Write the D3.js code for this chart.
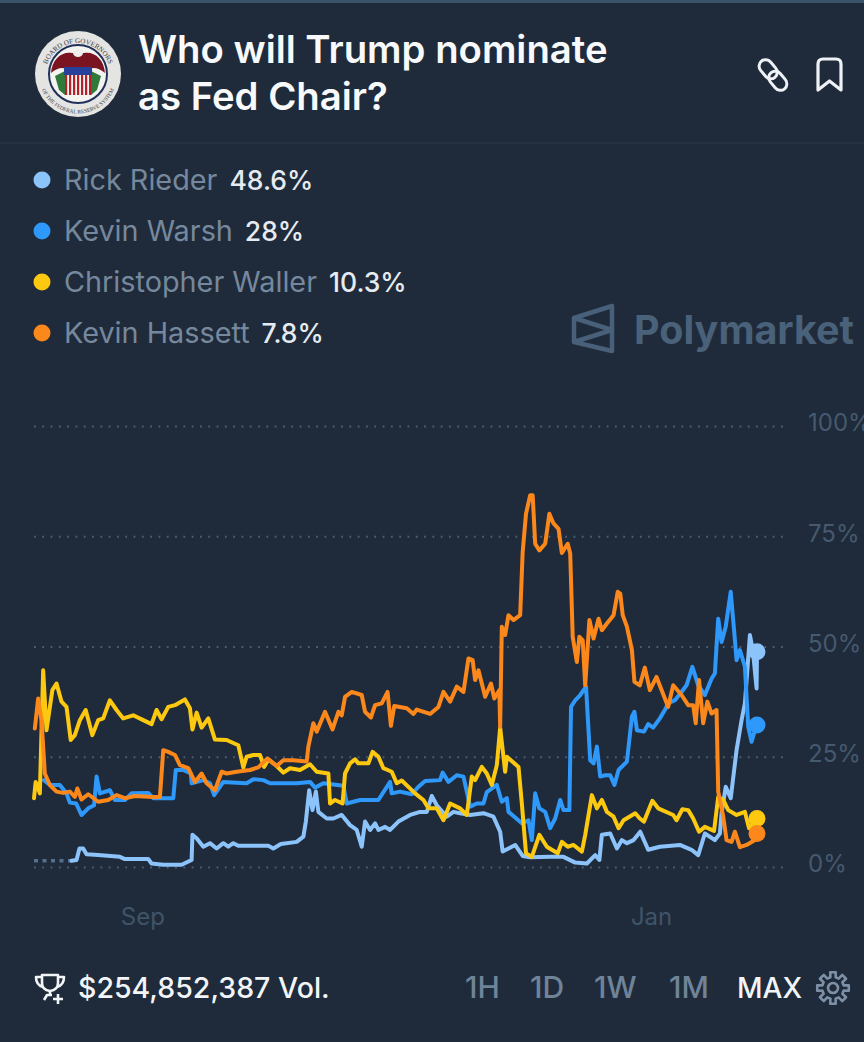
<!DOCTYPE html>
<html>
<head>
<meta charset="utf-8">
<script src="https://cdn.jsdelivr.net/npm/d3@7"></script>
<style>
  body { margin: 0; background: #1f2b3a; overflow: hidden; }
  svg { display: block; font-family: Inter, "Noto Sans", sans-serif; }
</style>
</head>
<body>
<div id="chart"></div>
<script>
// [days since Aug 6 2025, percent]
var rieder = [[9,1.4],[10.2,1.6],[10.9,4.2],[11.8,4.2],[12.6,2.9],[15.4,2.7],[20.6,2.3],[21.8,1.8],[27.4,1.8],[28.2,.8],[31,.5],[35.4,.5],[37.8,1.6],[38,7.3],[39,6.5],[40.6,4.6],[42.2,5.4],[43.8,4.2],[45.4,5.4],[46.6,4.6],[47.8,5.4],[49,4.8],[56.2,4.8],[57.4,4.2],[59.2,5.2],[63,5.7],[64.6,6.9],[65.2,10.3],[66,17.4],[66.8,12.9],[67.6,17.1],[68.2,12.5],[70.2,11],[71.8,11],[73.8,11.8],[75.8,9.5],[77.4,8.4],[78.6,4.6],[79.4,10.3],[80.6,8.4],[81.8,9.9],[82.6,8.4],[84.2,9.1],[85.4,8.4],[87.4,10.3],[90.2,11.8],[92.6,12.5],[94.2,12.5],[95.4,16.1],[96.6,14],[99,11.4],[100.6,12.5],[102.2,12.2],[104.6,11.8],[107.8,12.2],[110.2,11.4],[111.8,8],[112.4,3.5],[113.8,4.2],[115.4,5],[117.2,2.5],[119,2.2],[123.8,2.3],[127,2.3],[129.8,1],[132.6,.8],[134.6,2.7],[135.6,1.6],[136.2,7.3],[138.2,7.6],[139.8,4.2],[141,6.1],[142.2,5.4],[143.8,6.1],[145.4,8],[147.3,3.9],[150.1,4.6],[154.9,5],[157.7,3.9],[159.3,2.7],[160.9,7.6],[163.3,6.1],[164.5,7.6],[164.9,12.2],[165.9,18.2],[167.1,15.6],[168.5,26.5],[169.7,33.3],[170.5,37.1],[171.7,52.6],[172.4,49.2],[173.3,40.5],[173.4,48.8]];
var riederStart = [[0,1.4],[9,1.4]];

var warsh = [[2.4,19.7],[3.8,18.6],[6.2,18.6],[7.8,16.7],[8.6,14.6],[10.1,14.4],[11.4,11.8],[13,13.3],[14.4,14],[15,20.5],[15.8,16.7],[18.2,17.4],[19.4,15.2],[21.8,15.2],[23.4,16.7],[27.4,16.8],[28.6,15.6],[33.4,15.6],[34,22],[35.8,22],[37.6,21.2],[37.8,19],[40.6,19.7],[42.2,19],[43.2,16.3],[45.4,19.3],[48.6,19.1],[51,19],[52.6,19.9],[55,19.7],[56.6,19],[63,19],[66.2,19.3],[67.4,18],[69.4,19],[74.2,18.4],[75,14.4],[78.2,15.2],[82.6,15.2],[85.4,19.3],[85.8,16.7],[87.8,17.1],[90.6,16.5],[92.2,18.2],[93.8,19.5],[97.4,19.7],[98,21.4],[99.4,19.3],[101.4,20.8],[103,20.5],[104.6,13.7],[106.2,14.4],[107.8,14.4],[108.6,17],[111,18.6],[112.2,14.8],[113.4,15.6],[113.8,12.5],[117,9.9],[118.6,10.6],[119.4,6.1],[120.2,16.7],[121.2,13.3],[122.6,12.5],[123.8,8.8],[125,11],[126.2,15.2],[127,12.9],[128.4,12.9],[128.8,36.3],[129.8,37.8],[131,39],[132.4,40.9],[133.4,24.2],[134.2,23.5],[135,27.3],[135.8,20.5],[137,20.8],[138.2,20.8],[139.2,18.6],[140.2,22],[142.2,23.9],[143.4,34.1],[144,35.2],[144.6,31],[146.3,30.7],[147.3,32.4],[148.5,31.6],[150.1,33.7],[151.3,35.6],[152.1,37.1],[153.7,37.8],[155.3,39.7],[156.5,41.2],[157.9,45.4],[159.3,41.2],[160.9,39],[162.5,42.7],[163.3,43.9],[164.1,56.3],[164.9,51],[165.9,54.5],[167.1,62.4],[167.9,53.7],[168.5,46.9],[169.3,49.2],[170.5,45.4],[171.3,31.8],[172.1,28.4],[172.9,31],[173.4,32.2]];

var waller = [[0,15.6],[.4,19.3],[1.4,16.7],[2.2,44.6],[3,31],[4.4,40.1],[5.4,41.6],[6.6,37.5],[7.8,36.3],[8.8,28.8],[9.8,29.9],[11,33.3],[12.4,35.6],[14,29.9],[15.4,33.3],[16.6,33.7],[18.2,37.8],[19.8,35.6],[21.4,33.7],[23.8,34.4],[26.2,33.3],[28.2,32.4],[29.4,35.6],[30.6,33.5],[32.2,36.3],[33.8,36.7],[36.2,38],[37.4,36],[38,31.2],[39,35],[40.2,31.6],[41.8,33.7],[43.4,28.9],[46.2,28.8],[49,27.6],[50.2,22.6],[51,25],[52.6,25.4],[54.2,25.4],[55.2,22.7],[56.2,24.4],[58.2,22.9],[59.8,21.4],[61.4,22.4],[63.8,22],[66.2,23.3],[67.8,21.6],[70.6,21.2],[71,14.4],[72.2,15.2],[74,14.4],[74.6,21.2],[75.8,23.5],[77,24.4],[77.8,23.5],[80.2,23.5],[81.2,26.1],[82.6,25],[83.8,22.4],[85.8,21.6],[87,19],[88.2,19.6],[91.4,16.7],[93.4,15.2],[94.6,13.3],[96.6,13.3],[98.2,10.6],[99.8,14.4],[102.2,13.3],[103.8,11.8],[105,20.5],[105.8,19.7],[107.4,22.7],[108.6,21.2],[109.8,18.6],[111,23.1],[111.8,31.6],[113,21.6],[113.4,25],[116.2,22.7],[117,14.4],[118,3.1],[119.4,2.3],[121.2,7.3],[123,4.6],[125.6,3.1],[126.6,5.7],[128,4.6],[129.4,5],[131.4,3.5],[132.2,7.3],[133.8,16.3],[135,13.3],[136.2,15.2],[137.4,12.5],[139,11.4],[140.2,8.8],[141.4,10.6],[144.2,12.2],[145.3,11],[146.3,10.3],[148.3,15],[149.7,13.3],[153.3,11.8],[154.1,10.6],[155.5,13.1],[156.9,12.9],[158.1,11],[159.5,8],[160.9,9.1],[163.1,8.2],[164.1,15.9],[165.3,15.2],[166.5,12.9],[168.5,11.8],[170.5,12.5],[171.5,8.8],[173.4,11]];

var hassett = [[.2,31.4],[1,38.2],[1.8,33.3],[2.6,21.2],[3.8,18.6],[5.4,17.1],[7,16.8],[8.6,17.1],[9.8,15.9],[10.4,17.8],[11.4,15.3],[13,16.5],[15.4,14.8],[17.8,15.2],[19.8,16.3],[21.8,15.6],[24.2,16.1],[28.6,15.9],[30.2,15.9],[31,26.5],[32.2,26.1],[33.8,25.4],[35,23.1],[37,22.4],[38.6,19.3],[40.2,21.2],[41.4,19],[43.4,17.4],[45,21.6],[46.2,21.2],[48.6,21.6],[51.8,22],[53.8,22.6],[56,24.6],[58.2,22.9],[59.8,24.2],[62.2,24.2],[65.4,23.9],[65.8,27.3],[67,32.6],[67.8,30.7],[69.8,35.2],[71.6,31.2],[73,35.2],[73.8,34.4],[74.6,38.6],[76.2,39.7],[78.6,39],[79.4,35.2],[80.8,33.9],[81.8,36.7],[83.4,37.1],[84.8,39.7],[85.6,32],[86.4,36.5],[89.4,36],[91,34.7],[91.8,35.7],[95,34.7],[97,36.3],[98.2,39.7],[99.8,37.5],[101.4,40.9],[103,39.7],[104.2,47.3],[105.2,46.9],[105.8,42.4],[106.6,44.6],[108.2,38.6],[109.6,41.6],[110.4,38.2],[111.6,40.1],[111.8,31.8],[112.2,54.5],[113,52.6],[113.8,57.1],[115,56],[116.6,57.1],[117.2,71.4],[118,80.1],[119,84.3],[119.6,84.3],[120.2,73.3],[121.2,71.8],[122.6,73.3],[123.6,80.1],[124.6,77.9],[125.8,76.7],[126.6,71.2],[128,73.3],[128.6,71.1],[129.2,52.2],[130.2,46.5],[130.8,52.2],[131.6,51.4],[132.2,41.2],[133.2,56],[134.2,51.8],[135.4,56.3],[136.2,53.7],[137.4,55.2],[139,57.1],[140,62.4],[140.6,62],[141.2,57.1],[142.2,54.5],[143.4,49.2],[144,42],[145.3,41.2],[146.5,45.2],[147.7,40.1],[149.3,43.1],[152.1,36.3],[153.3,41.2],[155.3,39],[156.9,36.7],[158.1,36.7],[158.7,32.6],[159.5,42.4],[160.5,32.6],[161.5,37.5],[162.5,34.8],[163.7,35.6],[164.1,17.1],[165.3,11.4],[166.1,6.1],[167.3,5.7],[168.1,8],[169.3,4.5],[170.9,5],[172.9,6.1],[173.4,7.6]];

var names = ["Rick Rieder", "Kevin Warsh", "Christopher Waller", "Kevin Hassett"];
var shares = ["48.6%", "28%", "10.3%", "7.8%"];
var colors = ["#8cc3fb", "#2e98fb", "#fdc910", "#fc881c"];
var yTicks = [0, 25, 50, 75, 100];
var xTickDates = [new Date(Date.UTC(2025, 8, 1)), new Date(Date.UTC(2026, 0, 1))];
var ranges = ["1H", "1D", "1W", "1M", "MAX"];
var rangeX = [465, 530, 594, 669, 737];

var startDate = Date.UTC(2025, 7, 6);
function toDate(d) { return new Date(startDate + d * 864e5); }

var svg = d3.select("#chart").append("svg")
  .attr("width", 864)
  .attr("height", 1042);

// top strip and header rule
svg.append("rect").attr("width", 864).attr("height", 3).attr("fill", "#3b5368");
svg.append("line").attr("x1", 0).attr("x2", 864).attr("y1", 143).attr("y2", 143)
  .attr("stroke", "#273545").attr("stroke-width", 1.5);

// seal
var seal = svg.append("g").attr("transform", "translate(78,74)");
seal.append("circle").attr("r", 43).attr("fill", "#e4e4e2");
seal.append("circle").attr("r", 29).attr("fill", "#f3f3ef").attr("stroke", "#20305a").attr("stroke-width", 2);
var defs = svg.append("defs");
defs.append("path").attr("id", "sealTop").attr("d", "M-33,2 A33,33 0 0 1 33,2");
defs.append("path").attr("id", "sealBottom").attr("d", "M-38.2,9 A39.2,39.2 0 0 0 38.2,9");
seal.append("text").attr("font-size", 7).attr("font-family", "Liberation Serif").attr("fill", "#3a3a44")
  .append("textPath").attr("href", "#sealTop").attr("startOffset", "50%").attr("text-anchor", "middle")
  .text("BOARD OF GOVERNORS");
seal.append("text").attr("font-size", 5.4).attr("font-family", "Liberation Serif").attr("fill", "#3a3a44")
  .append("textPath").attr("href", "#sealBottom").attr("startOffset", "50%").attr("text-anchor", "middle")
  .text("OF THE FEDERAL RESERVE SYSTEM");
seal.append("path").attr("fill", "#7a1420")
  .attr("d", "M-27,-1 C-26,-15 -16,-23 -6,-21 L6,-21 C16,-23 26,-15 27,-1 C20,-7 14,-7 10,-4 L-10,-4 C-14,-7 -20,-7 -27,-1 Z");
seal.append("ellipse").attr("cx", 0).attr("cy", -21).attr("rx", 5).attr("ry", 4).attr("fill", "#eeeeea");
seal.append("path").attr("fill", "#2f7a3a").attr("d", "M-23,2 L-13,-3 L-13,21 L-19,16 Z");
seal.append("path").attr("fill", "#2f7a3a").attr("d", "M23,2 L13,-3 L13,21 L19,16 Z");
seal.append("rect").attr("x", -14).attr("y", -7).attr("width", 28).attr("height", 8).attr("fill", "#27409a");
d3.range(7).forEach(function(i) {
  seal.append("rect").attr("x", -13 + i * 4).attr("y", 1).attr("width", 2.2).attr("height", 20).attr("fill", "#b5202a");
});

// title
svg.append("text").attr("x", 138).attr("y", 63).attr("fill", "#f7f9fb")
  .attr("font-size", 38.3).attr("font-weight", 600).text("Who will Trump nominate");
svg.append("text").attr("x", 138).attr("y", 110).attr("fill", "#f7f9fb")
  .attr("font-size", 38.3).attr("font-weight", 600).text("as Fed Chair?");

// link icon
var link = svg.append("g").attr("transform", "translate(773,75) rotate(50)")
  .attr("fill", "none").attr("stroke", "#eef2f6").attr("stroke-width", 3);
link.append("rect").attr("x", -18).attr("y", -6.5).attr("width", 21).attr("height", 13).attr("rx", 6.5);
link.append("rect").attr("x", -3).attr("y", -6.5).attr("width", 21).attr("height", 13).attr("rx", 6.5);

// bookmark icon
svg.append("path").attr("d", "M818,64 Q818,59 823,59 L836,59 Q841,59 841,64 L841,90 L829.5,81 L818,90 Z")
  .attr("fill", "none").attr("stroke", "#eef2f6").attr("stroke-width", 3.2).attr("stroke-linejoin", "round");

// legend
var legend = svg.selectAll(".legend").data(names).enter().append("g")
  .attr("class", "legend")
  .attr("transform", function(d, i) { return "translate(0," + (180 + i * 51) + ")"; });
legend.append("circle").attr("cx", 42).attr("r", 8.5).attr("fill", function(d, i) { return colors[i]; });
var legendText = legend.append("text").attr("x", 64).attr("y", 10);
legendText.append("tspan").attr("fill", "#76889d").attr("font-size", 28.8).text(function(d) { return d; });
legendText.append("tspan").attr("dx", 12).attr("fill", "#e6ebf1").attr("font-size", 26.5).attr("font-weight", 500)
  .text(function(d, i) { return shares[i]; });

// watermark
svg.append("path").attr("d", "M612,306 L574,318 L574,342 L612,351 Z M574,318 L612,330 L574,342")
  .attr("fill", "none").attr("stroke", "#48607a").attr("stroke-width", 4.5).attr("stroke-linejoin", "round");
svg.append("text").attr("x", 634).attr("y", 344).attr("font-size", 39.5).attr("font-weight", 700)
  .attr("fill", "#4a617a").text("Polymarket");

var x = d3.scaleUtc().domain([toDate(0), toDate(173.4)]).range([34, 757]);
var y = d3.scaleLinear().domain([0, 100]).range([867, 426]);

// grid and y labels
var rightAxis = d3.axisRight(y).tickValues(yTicks).tickFormat(function(d) { return d + "%"; })
  .tickSize(754).tickPadding(20);
var yAxis = svg.append("g").attr("transform", "translate(34,0)").call(rightAxis);
yAxis.select(".domain").remove();
yAxis.selectAll("line").attr("stroke", "#4a5f75").attr("stroke-width", 1.8).attr("stroke-dasharray", "1.8 6.5");
yAxis.selectAll("text").attr("fill", "#46596e").attr("font-size", 24).attr("font-family", "Inter").attr("dy", "0.2em");

// x labels
var bottomAxis = d3.axisBottom(x).tickValues(xTickDates).tickFormat(d3.utcFormat("%b")).tickSize(0).tickPadding(0);
var xAxis = svg.append("g").attr("transform", "translate(0,925)").call(bottomAxis);
xAxis.select(".domain").remove();
xAxis.selectAll("text").attr("fill", "#3f5469").attr("font-size", 24).attr("font-family", "Inter").attr("dy", 0);

// lines
var line = d3.line()
  .x(function(d) { return x(toDate(d[0])); })
  .y(function(d) { return y(d[1]); });

svg.append("path").attr("d", line(riederStart)).attr("fill", "none")
  .attr("stroke", "#51718f").attr("stroke-width", 3.5).attr("stroke-dasharray", "4 4.5");

[rieder, warsh, waller, hassett].forEach(function(s, i) {
  svg.append("path").datum(s)
    .attr("d", line)
    .attr("fill", "none")
    .attr("stroke", colors[i])
    .attr("stroke-width", 4)
    .attr("stroke-linejoin", "round")
    .attr("stroke-linecap", "round");
});

[rieder, warsh, waller, hassett].forEach(function(s, i) {
  var last = s[s.length - 1];
  svg.append("circle")
    .attr("cx", x(toDate(last[0])))
    .attr("cy", y(last[1]))
    .attr("r", 8.5)
    .attr("fill", colors[i]);
});

// footer
var trophy = svg.append("g").attr("transform", "translate(50,986)")
  .attr("fill", "none").attr("stroke", "#f2f5f8").attr("stroke-width", 2.6).attr("stroke-linejoin", "round");
trophy.append("path").attr("d", "M-8,-11 L8,-11 L8,-3 Q8,4 0,5 Q-8,4 -8,-3 Z M-8,-9 L-14,-9 Q-14,-1 -7,1 M8,-9 L14,-9 Q14,-1 7,1");
trophy.append("path").attr("d", "M0,5 L0,9 M-6,14 L-3,9 L2,9");
trophy.append("path").attr("d", "M3,13 L13,13 M8,8 L8,18");

svg.append("text").attr("x", 78).attr("y", 998).attr("fill", "#f2f5f8")
  .attr("font-size", 28.5).attr("font-weight", 500).text("$254,852,387 Vol.");

svg.selectAll(".range").data(ranges).enter().append("text")
  .attr("class", "range")
  .attr("x", function(d, i) { return rangeX[i]; })
  .attr("y", 998)
  .attr("font-size", function(d) { return d === "MAX" ? 28 : 30; })
  .attr("font-weight", 500)
  .attr("fill", function(d) { return d === "MAX" ? "#f2f5f8" : "#6f8399"; })
  .text(function(d) { return d; });

// gear icon
var gear = svg.append("g").attr("transform", "translate(833,988)")
  .attr("fill", "none").attr("stroke", "#7d90a5").attr("stroke-width", 2.6).attr("stroke-linejoin", "round");
var gearPts = [];
d3.range(8).forEach(function(i) {
  var a = i * Math.PI / 4;
  [[-0.24, 11], [-0.17, 16], [0.17, 16], [0.24, 11]].forEach(function(p) {
    gearPts.push([Math.cos(a + p[0]) * p[1], Math.sin(a + p[0]) * p[1]]);
  });
});
gear.append("path").attr("d", d3.line().curve(d3.curveLinearClosed)(gearPts));
gear.append("circle").attr("r", 5);
</script>
</body>
</html>
